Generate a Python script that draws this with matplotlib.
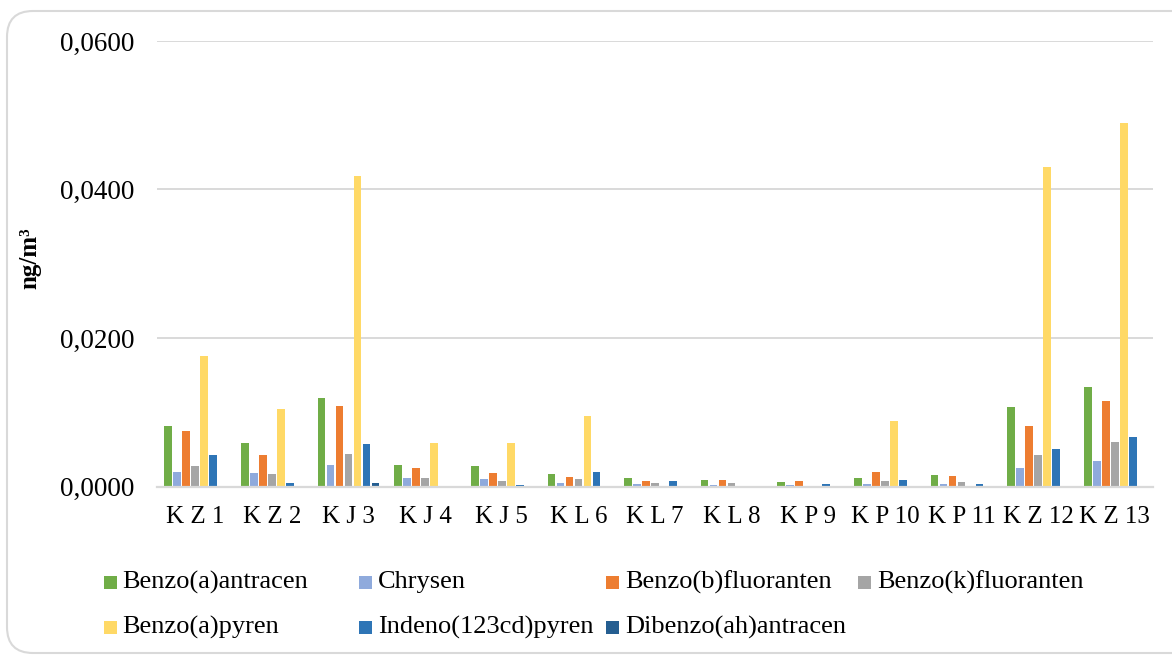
import numpy as np
import matplotlib
matplotlib.use("Agg")
import matplotlib.pyplot as plt
from matplotlib.patches import FancyBboxPatch, Rectangle

# -----------------------------------------------------------------------------
# data: PAH concentrations per sampling site (ng/m3)
# -----------------------------------------------------------------------------
sites = ["K Z 1", "K Z 2", "K J 3", "K J 4", "K J 5", "K L 6", "K L 7",
         "K L 8", "K P 9", "K P 10", "K P 11", "K Z 12", "K Z 13"]

benzo_a_antracen   = [0.0082, 0.0059, 0.0119, 0.0029, 0.0028, 0.0017, 0.0011,
                      0.0009, 0.0006, 0.0011, 0.0016, 0.0107, 0.0134]
chrysen            = [0.0019, 0.0018, 0.0029, 0.0011, 0.0010, 0.0005, 0.0003,
                      0.0002, 0.0002, 0.0003, 0.0004, 0.0025, 0.0035]
benzo_b_fluoranten = [0.0075, 0.0043, 0.0109, 0.0025, 0.0018, 0.0013, 0.0007,
                      0.0009, 0.0007, 0.0019, 0.0014, 0.0082, 0.0115]
benzo_k_fluoranten = [0.0027, 0.0017, 0.0044, 0.0011, 0.0007, 0.0010, 0.0005,
                      0.0005, 0.0000, 0.0007, 0.0006, 0.0043, 0.0060]
benzo_a_pyren      = [0.0176, 0.0104, 0.0418, 0.0058, 0.0058, 0.0095, 0.0000,
                      0.0000, 0.0000, 0.0088, 0.0000, 0.0430, 0.0489]
indeno_pyren       = [0.0043, 0.0005, 0.0057, 0.0000, 0.0002, 0.0019, 0.0007,
                      0.0000, 0.0003, 0.0009, 0.0003, 0.0051, 0.0066]
dibenzo_antracen   = [0.0000, 0.0000, 0.0005, 0.0000, 0.0000, 0.0000, 0.0000,
                      0.0000, 0.0000, 0.0000, 0.0000, 0.0000, 0.0000]

series_names = ["Benzo(a)antracen", "Chrysen", "Benzo(b)fluoranten",
                "Benzo(k)fluoranten", "Benzo(a)pyren", "Indeno(123cd)pyren",
                "Dibenzo(ah)antracen"]
series_values = [benzo_a_antracen, chrysen, benzo_b_fluoranten,
                 benzo_k_fluoranten, benzo_a_pyren, indeno_pyren,
                 dibenzo_antracen]
colors = ["#70AD47", "#8FAADC", "#ED7D31", "#A5A5A5", "#FFD966",
          "#2E75B6", "#255E91"]

yticks = [0.0, 0.02, 0.04, 0.06]
ytick_labels = ["0,0000", "0,0200", "0,0400", "0,0600"]

# -----------------------------------------------------------------------------
# plot
# -----------------------------------------------------------------------------
plt.rcParams["font.family"] = ["Liberation Serif", "DejaVu Serif"]

W, H = 1172, 655
fig = plt.figure(figsize=(W / 100, H / 100), dpi=100)

# rounded chart frame (inches), runs off the right edge
frame = FancyBboxPatch((0.07, 0.02), 12.4, 6.42,
                       boxstyle="round,pad=0,rounding_size=0.26",
                       transform=fig.dpi_scale_trans, facecolor="none",
                       edgecolor="#D9D9D9", linewidth=1.5, zorder=-1)
fig.patches.append(frame)

ax = fig.add_axes([157 / W, (H - 486.5) / H, 996 / W, 445.5 / H])
ax.set_facecolor("none")

x = np.arange(len(sites))
step = 0.1175
for j, vals in enumerate(series_values):
    ax.bar(x + (j - 3) * step, vals, width=step * 0.86, color=colors[j],
           zorder=3, linewidth=0)

ax.set_xlim(-0.5, len(sites) - 0.5)
ax.set_ylim(0, 0.06)
ax.set_yticks(yticks)
ax.set_yticklabels(ytick_labels, fontsize=19.5)
ax.set_xticks(x)
ax.set_xticklabels(sites, fontsize=18)
ax.tick_params(axis="both", length=0, colors="black")
ax.tick_params(axis="y", pad=16)
ax.tick_params(axis="x", pad=14)

ax.grid(axis="y", color="#D9D9D9", linewidth=1.4, zorder=0)
for side in ["top", "right", "left"]:
    ax.spines[side].set_visible(False)
ax.spines["bottom"].set_color("#D9D9D9")
ax.spines["bottom"].set_linewidth(1.6)
ax.spines["bottom"].set_zorder(4)

fig.text(30 / W, 1 - 258 / H, "ng/m³", rotation=90, fontsize=18,
         fontweight="bold", ha="center", va="center")

# legend laid out in four fixed-width columns
col_x = [103.5, 359, 606, 858]
row_y = [582, 627]
for i, name in enumerate(series_names):
    cx = col_x[i % 4]
    cy = row_y[i // 4]
    fig.patches.append(Rectangle((cx / W, 1 - (cy + 6.5) / H), 13 / W, 13 / H,
                                 transform=fig.transFigure,
                                 facecolor=colors[i], edgecolor="none"))
    fig.text((cx + 19) / W, 1 - cy / H, name, fontsize=19,
             ha="left", va="center")

fig.savefig("out.png", dpi=100)
